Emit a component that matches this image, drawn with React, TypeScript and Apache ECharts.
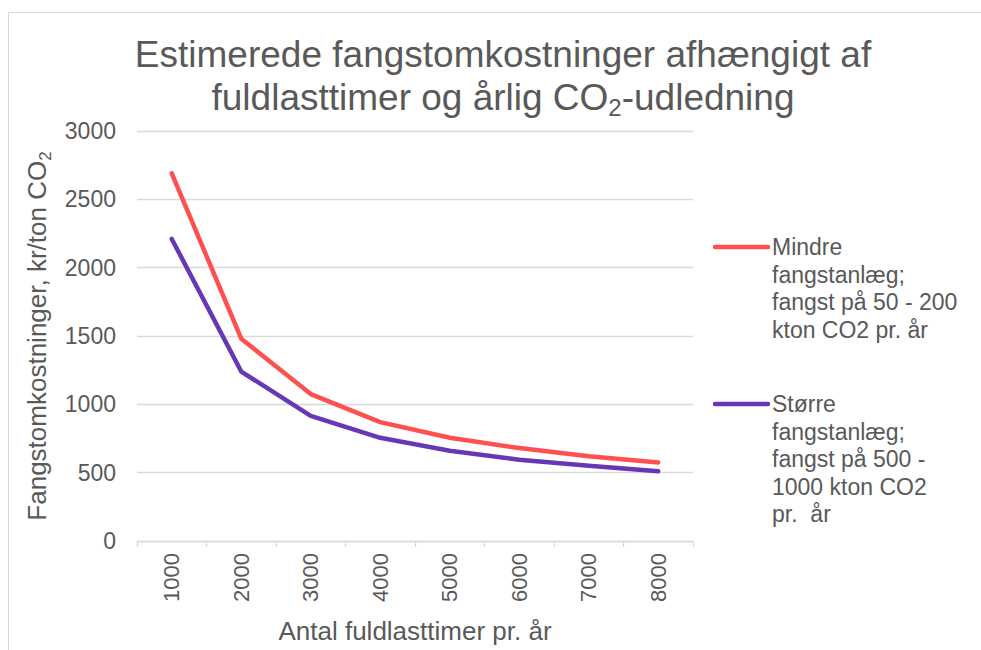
import React, { useEffect, useRef } from "react";
import * as echarts from "echarts";

const categories = ["1000", "2000", "3000", "4000", "5000", "6000", "7000", "8000"];
const smallPlant = [2690, 1480, 1075, 870, 755, 680, 620, 575];
const largePlant = [2210, 1240, 915, 755, 660, 595, 550, 510];
const seriesNames = [
  "Mindre fangstanlæg; fangst på 50 - 200 kton CO2 pr. år",
  "Større fangstanlæg; fangst på 500 - 1000 kton CO2 pr.  år",
];
const legendLabels = [
  "Mindre\nfangstanlæg;\nfangst på 50 - 200\nkton CO2 pr. år",
  "Større\nfangstanlæg;\nfangst på 500 -\n1000 kton CO2\npr.  år",
];
const colors = ["#FF5050", "#6638B6"];
const yTicks = { min: 0, max: 3000, interval: 500 };

const FONT = "'Liberation Sans', Arial, sans-serif";
const TEXT = "#595959";

export default function App() {
  const ref = useRef<HTMLDivElement>(null);
  useEffect(() => {
    if (!ref.current) return;
    const chart = echarts.init(ref.current, null, { renderer: "svg" });
    const legendY = [247, 404];
    const graphic: any[] = [
      {
        type: "rect",
        shape: { x: 8.5, y: 12.5, width: 1000, height: 700 },
        style: { fill: "none", stroke: "#d9d9d9", lineWidth: 1 },
        silent: true,
      },
    ];
    legendLabels.forEach((lbl, i) => {
      graphic.push({
        type: "line",
        shape: { x1: 715, y1: legendY[i], x2: 768, y2: legendY[i] },
        style: { stroke: colors[i], lineWidth: 4.5, lineCap: "round" },
      });
      graphic.push({
        type: "text",
        x: 772,
        y: legendY[i] - 13.75,
        style: {
          text: lbl,
          fontSize: 23,
          fontFamily: FONT,
          fill: TEXT,
          lineHeight: 27.5,
          verticalAlign: "top",
          align: "left",
        },
      });
    });
    chart.setOption({
      animation: false,
      backgroundColor: "#ffffff",
      title: {
        text: "Estimerede fangstomkostninger afhængigt af\nfuldlasttimer og årlig CO{sub|2}-udledning",
        left: 503,
        top: 33,
        padding: 0,
        textAlign: "center",
        textStyle: {
          fontSize: 37,
          fontWeight: "normal",
          fontFamily: FONT,
          color: TEXT,
          lineHeight: 43,
          rich: {
            sub: {
              fontSize: 24,
              fontFamily: FONT,
              color: TEXT,
              verticalAlign: "bottom",
              lineHeight: 43,
            },
          },
        },
      },
      grid: { left: 137, right: 288, top: 131, bottom: 109 },
      xAxis: {
        type: "category",
        data: categories,
        boundaryGap: true,
        name: "Antal fuldlasttimer pr. år",
        nameLocation: "middle",
        nameGap: 77,
        nameTextStyle: { fontSize: 26, fontFamily: FONT, color: TEXT },
        axisLine: { lineStyle: { color: "#d9d9d9", width: 1.3 } },
        axisTick: { show: true, length: 6, lineStyle: { color: "#d9d9d9", width: 1.3 } },
        axisLabel: { rotate: 90, fontSize: 22, fontFamily: FONT, color: TEXT, margin: 12 },
      },
      yAxis: {
        type: "value",
        min: yTicks.min,
        max: yTicks.max,
        interval: yTicks.interval,
        name: "Fangstomkostninger, kr/ton CO{sub|2}",
        nameLocation: "middle",
        nameGap: 82,
        nameRotate: 90,
        nameTextStyle: {
          fontSize: 26,
          fontFamily: FONT,
          color: TEXT,
          rich: {
            sub: { fontSize: 17, fontFamily: FONT, color: TEXT, verticalAlign: "bottom", lineHeight: 34 },
          },
        },
        axisLine: { show: false },
        axisTick: { show: false },
        axisLabel: {
          fontSize: 23,
          fontFamily: FONT,
          color: TEXT,
          margin: 21,
          formatter: (v: number) => String(v),
        },
        splitLine: { lineStyle: { color: "#d9d9d9", width: 1.3 } },
      },
      series: [
        {
          name: seriesNames[0],
          type: "line",
          data: smallPlant,
          symbol: "none",
          lineStyle: { color: colors[0], width: 4.5, cap: "round", join: "round" },
          itemStyle: { color: colors[0] },
        },
        {
          name: seriesNames[1],
          type: "line",
          data: largePlant,
          symbol: "none",
          lineStyle: { color: colors[1], width: 4.5, cap: "round", join: "round" },
          itemStyle: { color: colors[1] },
        },
      ],
      graphic,
    });
    return () => chart.dispose();
  }, []);
  return (
    <div
      ref={ref}
      style={{ position: "fixed", left: 0, top: 0, width: 981, height: 650, background: "#fff" }}
    />
  );
}
